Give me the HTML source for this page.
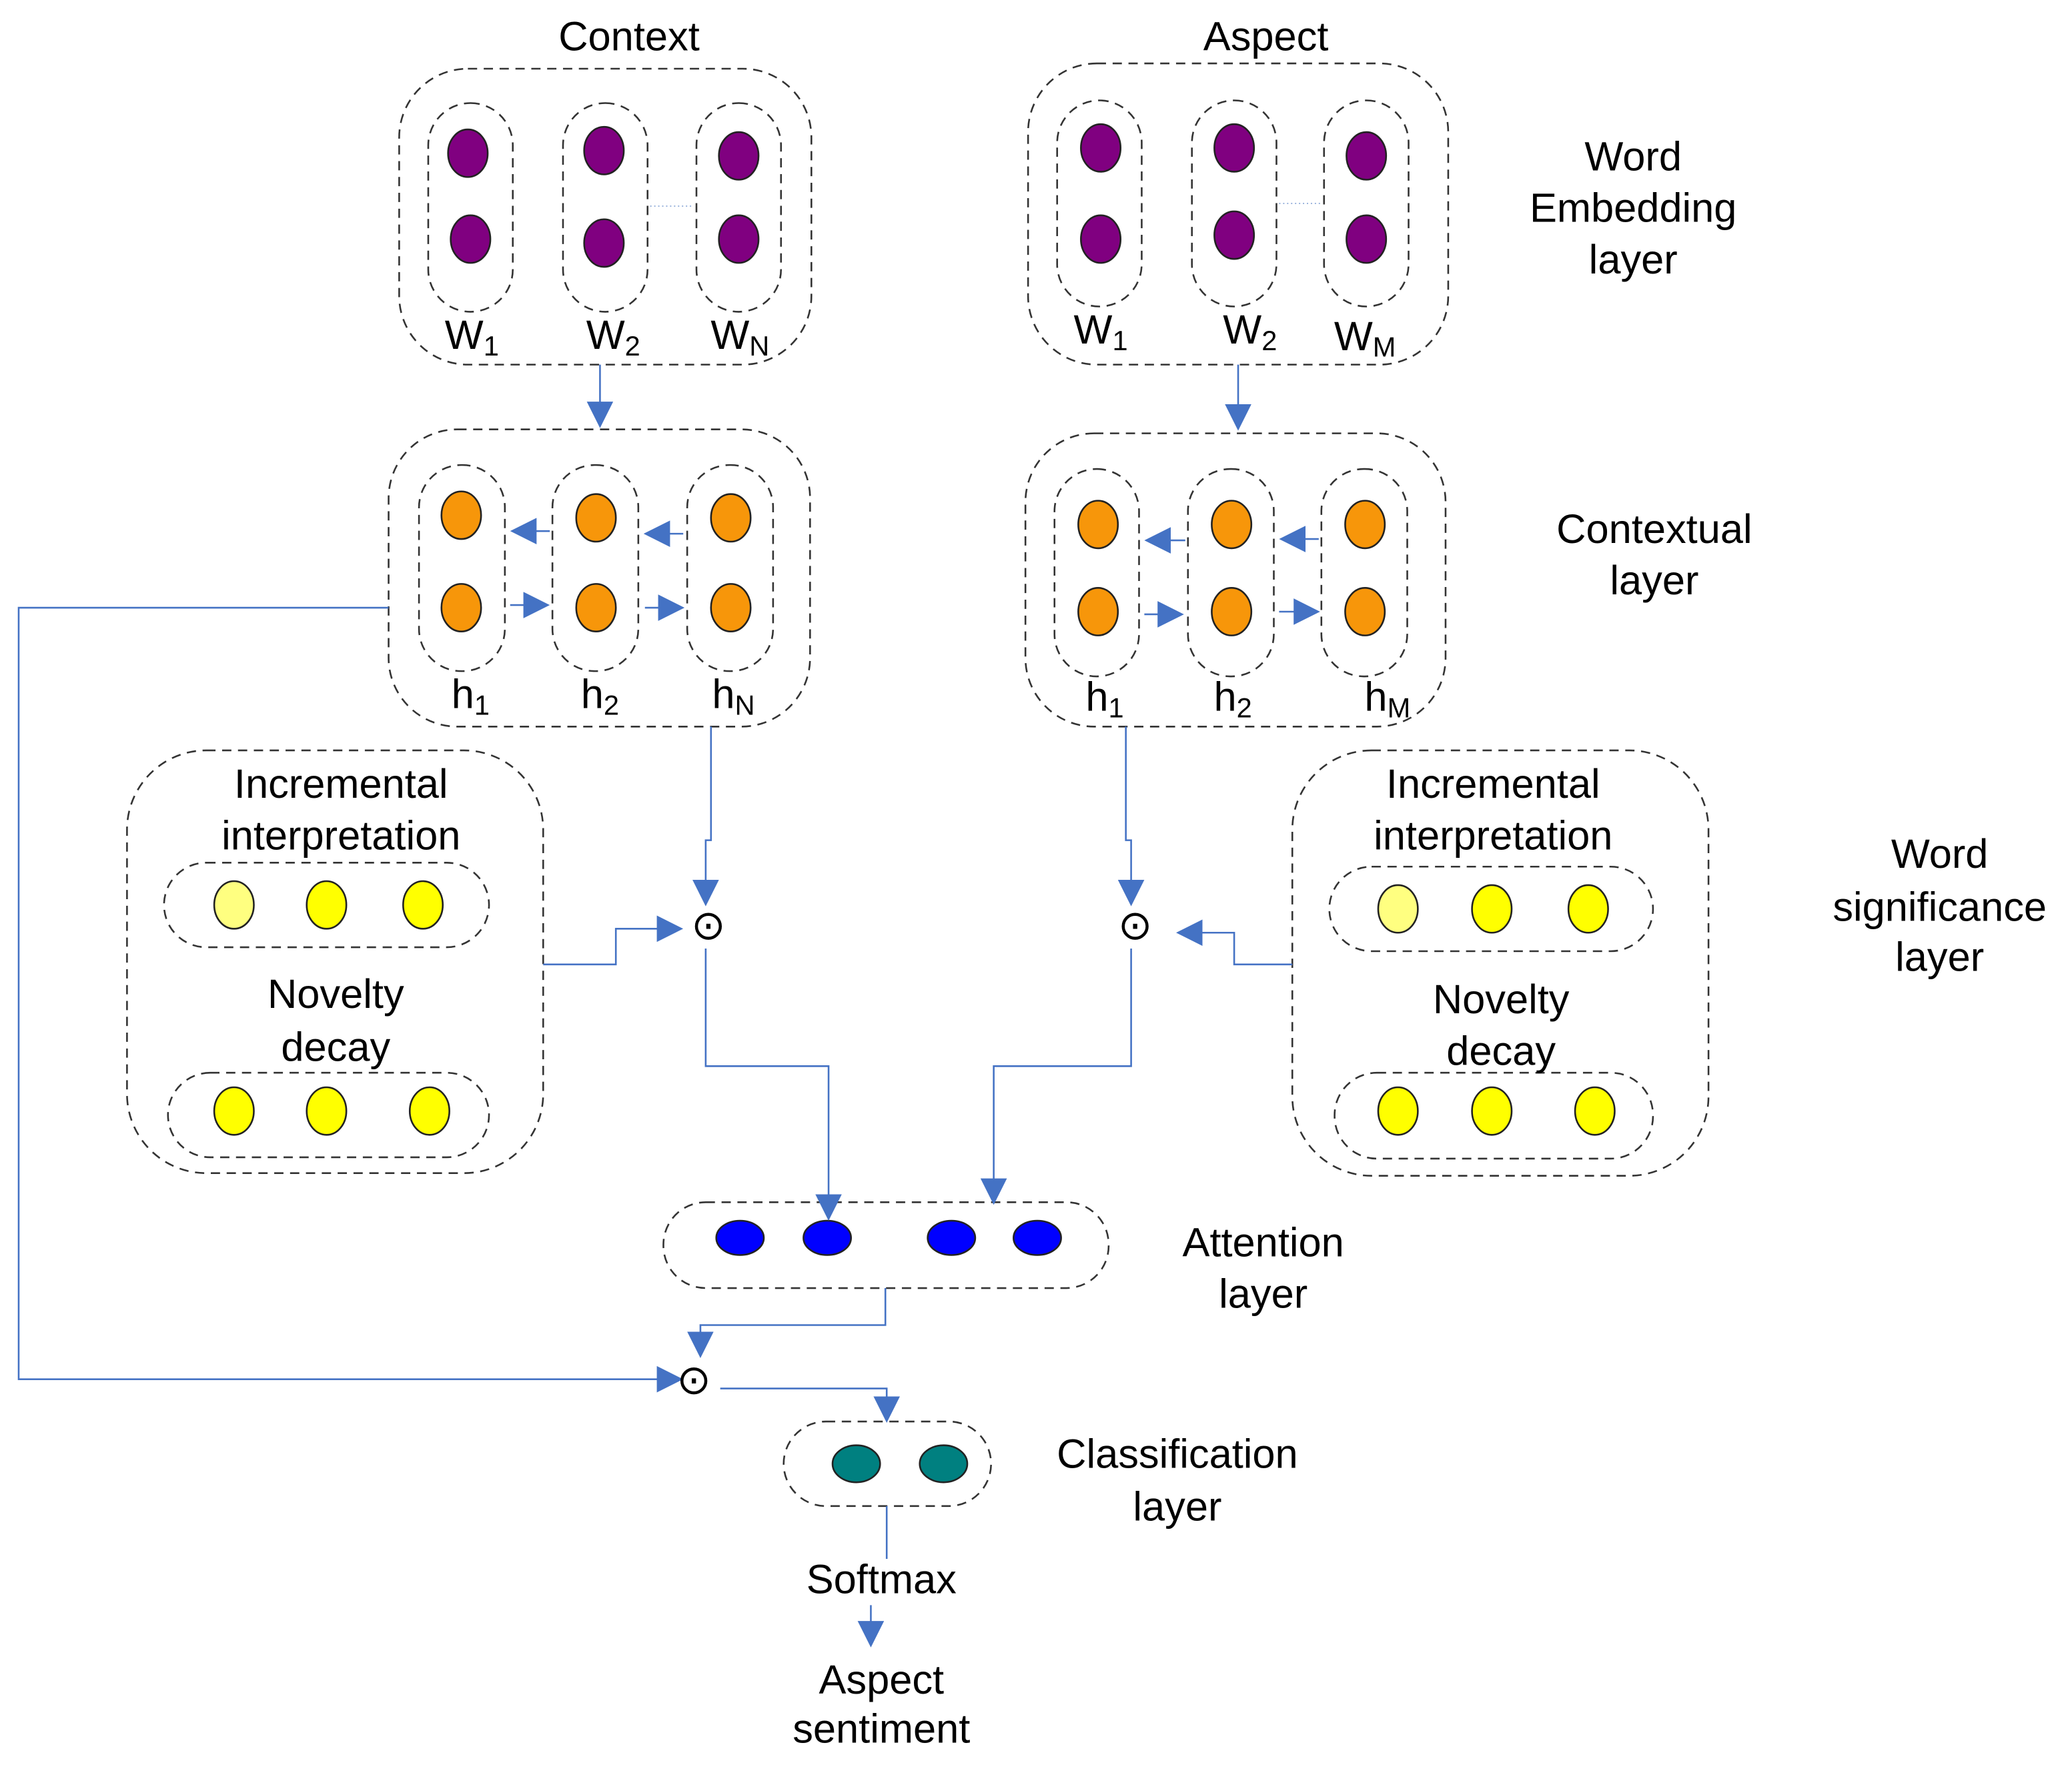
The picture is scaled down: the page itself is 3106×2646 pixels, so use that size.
<!DOCTYPE html>
<html><head><style>html,body{margin:0;padding:0;background:#fff}svg{display:block}</style></head>
<body>
<svg xmlns="http://www.w3.org/2000/svg" width="3106" height="2646" viewBox="0 0 1568 1336" font-family="Liberation Sans, sans-serif" font-size="31">
<defs>
<marker id="b" viewBox="0 0 10 10" refX="9" refY="5" markerWidth="20" markerHeight="20" markerUnits="userSpaceOnUse" orient="auto"><path d="M0,0L10,5L0,10z" fill="#4472c4"/></marker>
</defs>
<g fill="none" stroke="#333" stroke-width="1.3" stroke-dasharray="7,5">
<rect x="302" y="52" width="312" height="224" rx="52"/>
<rect x="324" y="78" width="64" height="158" rx="32"/>
<rect x="426" y="78" width="64" height="158" rx="32"/>
<rect x="527" y="78" width="64" height="158" rx="32"/>
<rect x="778" y="48" width="318" height="228" rx="52"/>
<rect x="800" y="76" width="64" height="156" rx="32"/>
<rect x="902" y="76" width="64" height="156" rx="32"/>
<rect x="1002" y="76" width="64" height="156" rx="32"/>
<rect x="294" y="325" width="319" height="225" rx="52"/>
<rect x="317" y="352" width="65" height="156" rx="32"/>
<rect x="418" y="352" width="65" height="156" rx="32"/>
<rect x="520" y="352" width="65" height="156" rx="32"/>
<rect x="776" y="328" width="318" height="222" rx="52"/>
<rect x="798" y="355" width="64" height="157" rx="32"/>
<rect x="899" y="355" width="65" height="157" rx="32"/>
<rect x="1000" y="355" width="65" height="157" rx="32"/>
<rect x="96" y="568" width="315" height="320" rx="60"/>
<rect x="124" y="653" width="246" height="64" rx="32"/>
<rect x="127" y="812" width="243" height="64" rx="32"/>
<rect x="978" y="568" width="315" height="322" rx="60"/>
<rect x="1006" y="656" width="245" height="64" rx="32"/>
<rect x="1010" y="812" width="241" height="65" rx="32"/>
<rect x="502" y="910" width="337" height="65" rx="32"/>
<rect x="593" y="1076" width="157" height="64" rx="32"/>
</g>
<g stroke="#9bb4dd" stroke-width="1" stroke-dasharray="1,2"><line x1="492" y1="156" x2="525" y2="156"/><line x1="968" y1="154" x2="1000" y2="154"/></g>
<g stroke="#222" stroke-width="1.3">
<g fill="#800080"><ellipse cx="354" cy="116" rx="15" ry="18"/><ellipse cx="356" cy="181" rx="15" ry="18"/><ellipse cx="457" cy="114" rx="15" ry="18"/><ellipse cx="457" cy="184" rx="15" ry="18"/><ellipse cx="559" cy="118" rx="15" ry="18"/><ellipse cx="559" cy="181" rx="15" ry="18"/>
<ellipse cx="833" cy="112" rx="15" ry="18"/><ellipse cx="833" cy="181" rx="15" ry="18"/><ellipse cx="934" cy="112" rx="15" ry="18"/><ellipse cx="934" cy="178" rx="15" ry="18"/><ellipse cx="1034" cy="118" rx="15" ry="18"/><ellipse cx="1034" cy="181" rx="15" ry="18"/></g>
<g fill="#f7960a"><ellipse cx="349" cy="390" rx="15" ry="18"/><ellipse cx="349" cy="460" rx="15" ry="18"/><ellipse cx="451" cy="392" rx="15" ry="18"/><ellipse cx="451" cy="460" rx="15" ry="18"/><ellipse cx="553" cy="392" rx="15" ry="18"/><ellipse cx="553" cy="460" rx="15" ry="18"/>
<ellipse cx="831" cy="397" rx="15" ry="18"/><ellipse cx="831" cy="463" rx="15" ry="18"/><ellipse cx="932" cy="397" rx="15" ry="18"/><ellipse cx="932" cy="463" rx="15" ry="18"/><ellipse cx="1033" cy="397" rx="15" ry="18"/><ellipse cx="1033" cy="463" rx="15" ry="18"/></g>
<g fill="#ffff00"><ellipse cx="177" cy="685" rx="15" ry="18" fill="#ffff80"/><ellipse cx="247" cy="685" rx="15" ry="18"/><ellipse cx="320" cy="685" rx="15" ry="18"/><ellipse cx="177" cy="841" rx="15" ry="18"/><ellipse cx="247" cy="841" rx="15" ry="18"/><ellipse cx="325" cy="841" rx="15" ry="18"/>
<ellipse cx="1058" cy="688" rx="15" ry="18" fill="#ffff80"/><ellipse cx="1129" cy="688" rx="15" ry="18"/><ellipse cx="1202" cy="688" rx="15" ry="18"/><ellipse cx="1058" cy="841" rx="15" ry="18"/><ellipse cx="1129" cy="841" rx="15" ry="18"/><ellipse cx="1207" cy="841" rx="15" ry="18"/></g>
<g fill="#0000ff"><ellipse cx="560" cy="937" rx="18" ry="13"/><ellipse cx="626" cy="937" rx="18" ry="13"/><ellipse cx="720" cy="937" rx="18" ry="13"/><ellipse cx="785" cy="937" rx="18" ry="13"/></g>
<g fill="#008080"><ellipse cx="648" cy="1108" rx="18" ry="14"/><ellipse cx="714" cy="1108" rx="18" ry="14"/></g>
</g>
<g fill="none" stroke="#4472c4" stroke-width="1.3">
<path d="M454 276V322" marker-end="url(#b)"/>
<path d="M937 276V324" marker-end="url(#b)"/>
<path d="M416 402H388" marker-end="url(#b)"/><path d="M517 404H489" marker-end="url(#b)"/>
<path d="M386 458H414" marker-end="url(#b)"/><path d="M488 460H516" marker-end="url(#b)"/>
<path d="M897 409H868" marker-end="url(#b)"/><path d="M998 408H970" marker-end="url(#b)"/>
<path d="M866 465H894" marker-end="url(#b)"/><path d="M968 463H997" marker-end="url(#b)"/>
<path d="M538 550V636H534V684" marker-end="url(#b)"/>
<path d="M852 550V636H856V684" marker-end="url(#b)"/>
<path d="M411 730H466V703H515" marker-end="url(#b)"/>
<path d="M978 730H934V706H892" marker-end="url(#b)"/>
<path d="M534 718V807H627V922" marker-end="url(#b)"/>
<path d="M856 718V807H752V910" marker-end="url(#b)"/>
<path d="M670 975V1003H530V1026" marker-end="url(#b)"/>
<path d="M294 460H14V1044H515" marker-end="url(#b)"/>
<path d="M545 1051H671V1075" marker-end="url(#b)"/>
<path d="M671 1140V1180"/>
<path d="M659 1215V1245" marker-end="url(#b)"/>
</g>
<g fill="#000" text-anchor="middle">
<text x="476" y="38">Context</text><text x="958" y="38">Aspect</text>
<text x="357" y="264">W<tspan font-size="21" dy="5">1</tspan></text>
<text x="464" y="264">W<tspan font-size="21" dy="5">2</tspan></text>
<text x="560" y="264">W<tspan font-size="21" dy="5">N</tspan></text>
<text x="833" y="260">W<tspan font-size="21" dy="5">1</tspan></text>
<text x="946" y="260">W<tspan font-size="21" dy="5">2</tspan></text>
<text x="1033" y="265">W<tspan font-size="21" dy="5">M</tspan></text>
<text x="356" y="536">h<tspan font-size="21" dy="5">1</tspan></text>
<text x="454" y="536">h<tspan font-size="21" dy="5">2</tspan></text>
<text x="555" y="536">h<tspan font-size="21" dy="5">N</tspan></text>
<text x="836" y="538">h<tspan font-size="21" dy="5">1</tspan></text>
<text x="933" y="538">h<tspan font-size="21" dy="5">2</tspan></text>
<text x="1050" y="538">h<tspan font-size="21" dy="5">M</tspan></text>
<text x="1236" y="129">Word</text><text x="1236" y="168">Embedding</text><text x="1236" y="207">layer</text>
<text x="1252" y="411">Contextual</text><text x="1252" y="450">layer</text>
<text x="1468" y="657">Word</text><text x="1468" y="697">significance</text><text x="1468" y="735">layer</text>
<text x="258" y="604">Incremental</text><text x="258" y="643">interpretation</text>
<text x="254" y="763">Novelty</text><text x="254" y="803">decay</text>
<text x="1130" y="604">Incremental</text><text x="1130" y="643">interpretation</text>
<text x="1136" y="767">Novelty</text><text x="1136" y="806">decay</text>
<text x="536" y="711">⊙</text><text x="859" y="711">⊙</text><text x="525" y="1055">⊙</text>
<text x="956" y="951">Attention</text><text x="956" y="990">layer</text>
<text x="891" y="1111">Classification</text><text x="891" y="1151">layer</text>
<text x="667" y="1206">Softmax</text>
<text x="667" y="1282">Aspect</text><text x="667" y="1319">sentiment</text>
</g>
</svg>
</body></html>
